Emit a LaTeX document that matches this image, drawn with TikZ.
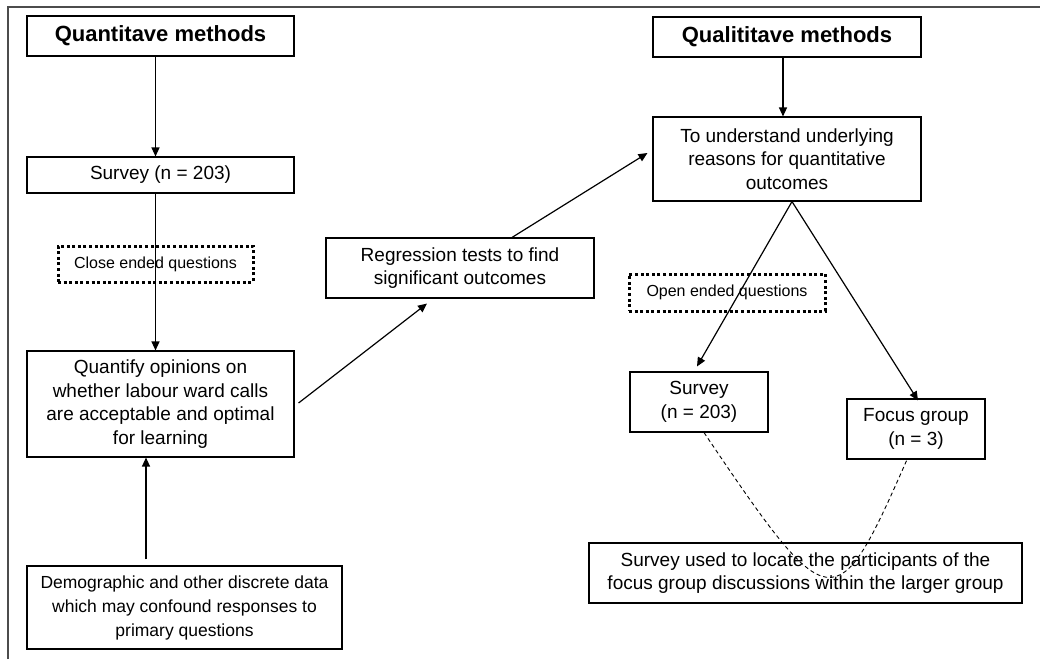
\documentclass[tikz,border=0pt]{standalone}
\usepackage{fontspec}
\setmainfont{Liberation Sans}
\usetikzlibrary{arrows.meta,calc}
\tikzset{
  box/.style={draw, line width=1.1pt, align=center, inner sep=0pt,
    font=\fontsize{19}{23.5}\selectfont},
  title/.style={box, font=\fontsize{22}{26}\selectfont\bfseries},
  dotbox/.style={draw, line width=3pt, dash pattern=on 3pt off 2.6pt,
    align=center, inner sep=0pt, font=\fontsize{16}{19}\selectfont},
  arr/.style={line width=1.2pt, -{Triangle[length=9pt,width=8pt]}},
  dline/.style={line width=0.9pt, dash pattern=on 4pt off 3pt},
}
\begin{document}
\begin{tikzpicture}[x=1pt,y=-1pt]
\useasboundingbox (0,0) rectangle (1040,659);
\draw[line width=1.5pt, black!70] (8,659) -- (8,7) -- (1040,7);

% left column
\node[title, minimum width=267, minimum height=40] (quant) at (160.5,36) {Quantitave methods};
\node[box, minimum width=267, minimum height=36] (survey) at (160.5,175) {Survey (n = 203)};
\node[dotbox, minimum width=195, minimum height=36] (closeq) at (155.5,264) {Close ended questions};
\node[box, minimum width=267, minimum height=106] (quantify) at (160.5,404)
  {Quantify opinions on\\whether labour ward calls\\are acceptable and optimal\\for learning};
\node[box, minimum width=315, minimum height=83, font=\fontsize{17.5}{24}\selectfont] (demo) at (184.5,607.5)
  {Demographic and other discrete data\\which may confound responses to\\primary questions};

% middle
\node[box, minimum width=268, minimum height=60] (reg) at (460,268)
  {Regression tests to find\\significant outcomes};

% right column
\node[title, minimum width=268, minimum height=40] (qual) at (787,37) {Qualititave methods};
\node[box, minimum width=268, minimum height=84] (under) at (787,159)
  {To understand underlying\\reasons for quantitative\\outcomes};
\node[dotbox, minimum width=196, minimum height=37] (openq) at (727,292.5) {Open ended questions};
\node[box, minimum width=138, minimum height=60] (survey2) at (699,402) {Survey\\(n = 203)};
\node[box, minimum width=138, minimum height=60] (focus) at (916,429) {Focus group\\(n = 3)};
\node[box, minimum width=433, minimum height=60] (bottom) at (805.5,573)
  {Survey used to locate the participants of the\\focus group discussions within the larger group};

% connectors
\draw[arr] (quant.south -| closeq) -- (survey.north -| closeq);
\draw[arr] (survey.south -| closeq) -- (quantify.north -| closeq);
\draw[arr] ($(demo.north)+(-38.5,-6)$) -- ($(quantify.south)+(-14.5,0)$);
\draw[arr] ($(quantify.east)+(4,-1)$) -- ($(reg.south)+(-33,5)$);
\draw[arr] ($(reg.north)+(52,0)$) -- ($(under.west)+(-5,-6)$);
\draw[arr] (qual.south -| 783,0) -- (under.north -| 783,0);
\draw[arr] ($(under.south)+(5,0)$) -- ($(survey2.north)+(-2,-5)$);
\draw[arr] ($(under.south)+(5,0)$) -- ($(focus.north)+(2,2)$);
\draw[dline] ($(survey2.south)+(5,0)$) .. controls (831,621) and (836,621) .. ($(focus.south)+(-9,0)$);
\end{tikzpicture}
\end{document}
